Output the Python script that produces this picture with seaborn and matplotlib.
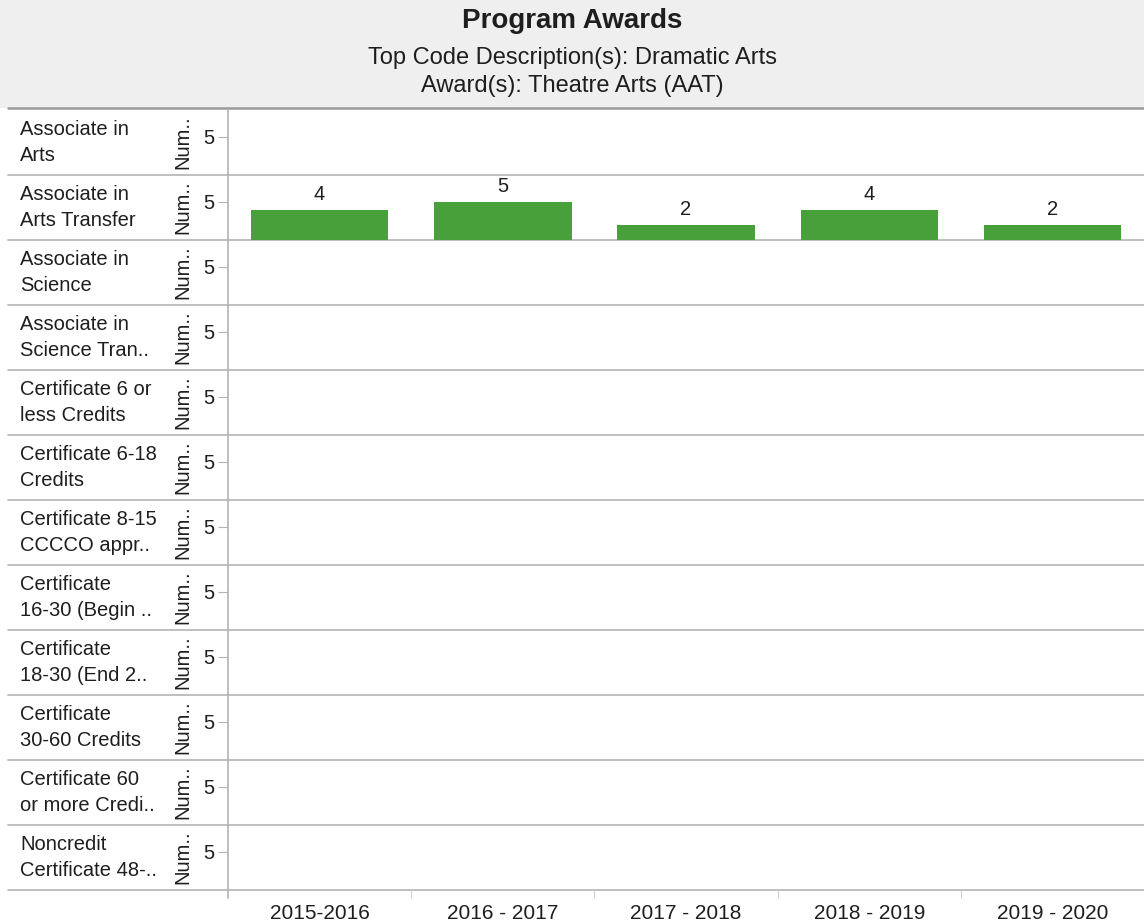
import matplotlib
matplotlib.use("Agg")
import matplotlib.pyplot as plt
import pandas as pd
import seaborn as sns

# data
years = ["2015-2016", "2016 - 2017", "2017 - 2018", "2018 - 2019", "2019 - 2020"]
award_labels = [
    "Associate in\nArts",
    "Associate in\nArts Transfer",
    "Associate in\nScience",
    "Associate in\nScience Tran..",
    "Certificate 6 or\nless Credits",
    "Certificate 6-18\nCredits",
    "Certificate 8-15\nCCCCO appr..",
    "Certificate\n16-30 (Begin ..",
    "Certificate\n18-30 (End 2..",
    "Certificate\n30-60 Credits",
    "Certificate 60\nor more Credi..",
    "Noncredit\nCertificate 48-..",
]
aat_award = "Associate in\nArts Transfer"
aat_counts = [4, 5, 2, 4, 2]

df = pd.DataFrame({"award": aat_award, "year": years, "count": aat_counts})

sns.set_theme(style="white")
plt.rcParams["font.family"] = ["Liberation Sans", "DejaVu Sans"]

W, H = 1144, 921
fig = plt.figure(figsize=(W / 100, H / 100), dpi=100)

# background layer in pixel coords (header band + row separators)
bg = fig.add_axes([0, 0, 1, 1], zorder=0)
bg.set_xlim(0, W)
bg.set_ylim(H, 0)
bg.axis("off")
bg.add_patch(plt.Rectangle((0, 0), W, 108, color="#efefef", lw=0))
bg.plot([8, W], [108.5, 108.5], color="#9a9a9a", lw=1.8)

top, row_h = 110, 65
ax_left, ax_w = 228, W - 228
n = len(award_labels)
for i in range(1, n + 1):
    y = top + i * row_h
    bg.plot([8, W], [y, y], color="#b4b4b4", lw=1.2)
bg.plot([ax_left, ax_left], [top, top + n * row_h + 8], color="#b4b4b4", lw=1.2)

txt = "#1e1e1e"
fig.text(0.5, 1 - 21 / H, "Program Awards", ha="center", va="center",
         fontsize=20, fontweight="bold", color=txt)
fig.text(0.5, 1 - 58 / H, "Top Code Description(s): Dramatic Arts", ha="center",
         va="center", fontsize=17, color=txt)
fig.text(0.5, 1 - 86 / H, "Award(s): Theatre Arts (AAT)", ha="center",
         va="center", fontsize=17, color=txt)

green = "#47a03a"
fs = 14.5
for i, award in enumerate(award_labels):
    y0 = top + (i + 1) * row_h
    ax = fig.add_axes([ax_left / W, 1 - y0 / H, ax_w / W, row_h / H], zorder=1)
    ax.patch.set_alpha(0)
    sub = df[df["award"] == award]
    if len(sub):
        sns.barplot(data=sub, x="year", y="count", order=years, color=green,
                    saturation=1, width=0.75, ax=ax, linewidth=0)
        for c in ax.containers:
            ax.bar_label(c, padding=4, fontsize=fs, color=txt)
    ax.set_xlim(-0.5, len(years) - 0.5)
    ax.set_ylim(0, 8.55)
    ax.set_yticks([5])
    ax.set_yticklabels(["5"], fontsize=fs, color=txt)
    ax.tick_params(axis="y", length=7, width=0.8, color="#b4b4b4", pad=3, left=True)
    for s in ax.spines.values():
        s.set_visible(False)
    ax.set_ylabel("Num..", fontsize=fs, color=txt)
    ax.yaxis.set_label_coords(-36 / ax_w, 0.5)
    ax.set_xlabel("")
    if i == n - 1:
        ax.set_xticks(range(len(years)))
        ax.set_xticklabels(years, fontsize=15, color=txt)
        ax.set_xticks([k + 0.5 for k in range(len(years) - 1)], minor=True)
        ax.tick_params(axis="x", which="major", length=0, pad=10, bottom=False)
        ax.tick_params(axis="x", which="minor", length=6, width=0.8,
                       color="#d0d0d0", bottom=True)
    else:
        ax.set_xticks([])
    fig.text(20 / W, 1 - (y0 - row_h / 2) / H, award, ha="left", va="center",
             fontsize=fs, linespacing=1.42, color=txt)

fig.savefig("out.png", dpi=100)
